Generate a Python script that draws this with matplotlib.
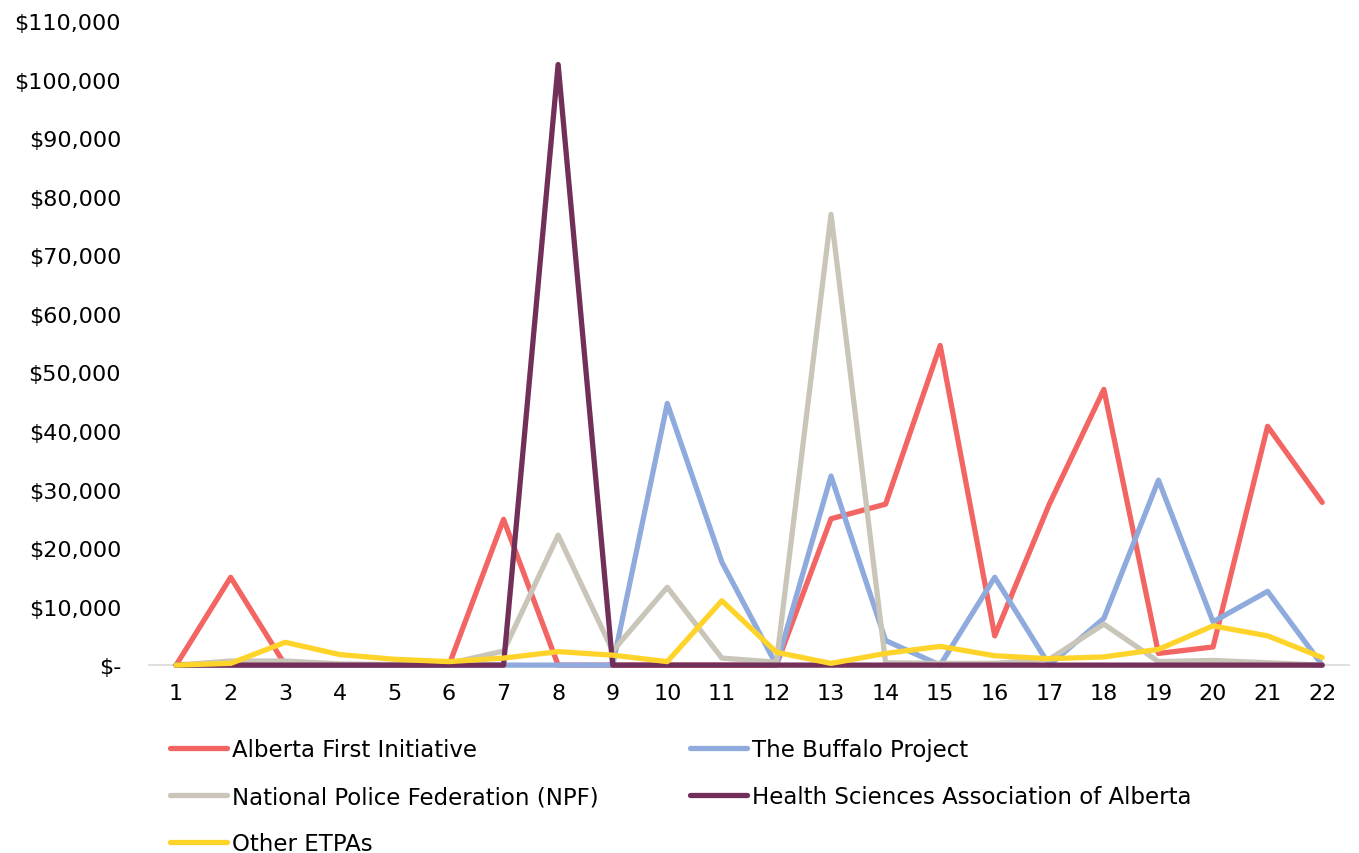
import matplotlib
matplotlib.use("Agg")
import matplotlib.pyplot as plt
from matplotlib.ticker import FuncFormatter

periods = list(range(1, 23))

alberta_first = [0, 15000, 0, 0, 0, 0, 24900, 0, 0, 0, 0, 0, 25000, 27500, 54600, 5000,
                 27500, 47100, 2000, 3100, 40800, 27800]
buffalo = [0, 0, 0, 0, 0, 0, 0, 0, 0, 44700, 17600, 0, 32300, 4200, 0, 15000,
           0, 8000, 31600, 7400, 12600, 0]
npf = [0, 700, 700, 200, 100, 300, 2400, 22200, 2400, 13300, 1200, 500, 77000, 400, 300, 300,
       1000, 7000, 600, 800, 400, 0]
hsaa = [0, 0, 0, 0, 0, 0, 0, 102600, 0, 0, 0, 0, 0, 0, 0, 0,
        0, 0, 0, 0, 0, 0]
other = [0, 300, 3900, 1800, 1000, 600, 1200, 2300, 1700, 600, 11000, 2200, 300, 2000, 3200, 1600,
         1100, 1400, 2700, 6700, 5000, 1300]

plt.rcParams['font.family'] = ['DejaVu Sans']

fig = plt.figure(figsize=(13.59, 8.54), dpi=100)
ax = fig.add_axes([0.1095, 0.22, 0.8835, 0.754])

style = dict(lw=3.8, clip_on=False, solid_capstyle='round')
l1, = ax.plot(periods, alberta_first, color='#F26563', label='Alberta First Initiative', **style)
l2, = ax.plot(periods, buffalo, color='#8FAADC', label='The Buffalo Project', **style)
l3, = ax.plot(periods, npf, color='#C9C5B9', label='National Police Federation (NPF)', **style)
l4, = ax.plot(periods, hsaa, color='#722F5A', label='Health Sciences Association of Alberta', **style)
l5, = ax.plot(periods, other, color='#FFD42A', label='Other ETPAs', **style)

ax.set_xlim(0.5, 22.5)
ax.set_ylim(0, 110000)
ax.set_xticks(periods)
ax.set_yticks(range(0, 110001, 10000))


def money(v, pos):
    if v == 0:
        return '$-'
    return '${:,.0f}'.format(v)


ax.yaxis.set_major_formatter(FuncFormatter(money))
ax.tick_params(axis='y', length=0, pad=20, labelsize=16)
ax.tick_params(axis='x', length=0, pad=13, labelsize=16)
for s in ['top', 'right', 'left']:
    ax.spines[s].set_visible(False)
ax.spines['bottom'].set_color('#D9D9D9')
ax.spines['bottom'].set_linewidth(1.2)
ax.spines['bottom'].set_zorder(0)

handles = [l1, l3, l5, l2, l4]
fig.legend(handles=handles, labels=[h.get_label() for h in handles], ncol=2,
           loc='upper left', bbox_to_anchor=(0.1183, 0.1455), frameon=False,
           fontsize=16.5, handlelength=2.5, handletextpad=0.2, labelspacing=1.06,
           columnspacing=4.0, borderaxespad=0)

fig.savefig('out.png', dpi=100)
